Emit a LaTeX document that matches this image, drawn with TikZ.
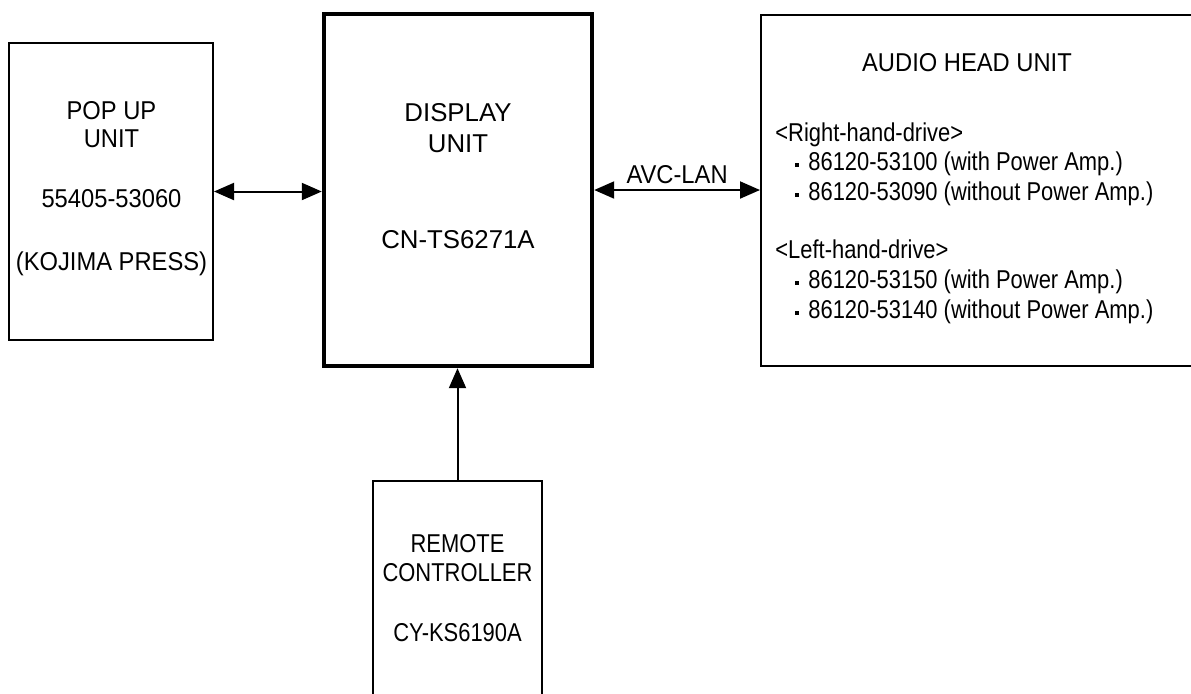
\documentclass[tikz,border=0pt]{standalone}
\usepackage{fontspec}
\setmainfont{Liberation Sans}
\newfontfamily\semifont[FakeStretch=0.92]{Liberation Sans}
\newfontfamily\narrowfont[FakeStretch=0.85]{Liberation Sans}
\usetikzlibrary{arrows.meta}
\newcommand{\bul}{\rule[2pt]{2pt}{2pt}\hspace{4.5pt}}
\begin{document}
\fontsize{12.9}{15}\selectfont
\begin{tikzpicture}[x=0.5pt,y=-0.5pt,>={Triangle[length=10pt,width=8.5pt]},
	unit/.style={draw,line width=1pt,inner sep=0pt},
	lbl/.style={inner sep=0pt,anchor=base},
	link/.style={<->,line width=1pt}]
	\useasboundingbox (0,0) rectangle (1191,693);
	% units
	\node[unit,minimum width=102pt,minimum height=148.5pt] (pop) at (111,191.5) {};
	\node[unit,line width=2.2pt,minimum width=134pt,minimum height=176pt] (disp) at (458,190) {};
	\node[unit,minimum width=239.5pt,minimum height=175.5pt] (ahu) at (1000.5,190.5) {};
	\node[unit,minimum width=84.5pt,minimum height=129.5pt] (rem) at (457.5,610.5) {};
	% texts
	\foreach \t/\y [count=\i] in {POP UP/119.5,UNIT/147,55405-53060/207.5,{(KOJIMA PRESS)}/270.5}
	  \node[lbl,font=\semifont] (pop\i) at (111.5,\y) {\t};
	\foreach \t/\y [count=\i] in {DISPLAY/121.5,UNIT/152.5,CN-TS6271A/248.5}
	  \node[lbl] (disp\i) at (458,\y) {\t};
	\foreach \t/\y [count=\i] in {REMOTE/552.5,CONTROLLER/581.5,CY-KS6190A/641.5}
	  \node[lbl,font=\narrowfont] (rem\i) at (457.5,\y) {\t};
	\node[lbl,font=\semifont] (ahu0) at (967,71.5) {AUDIO HEAD UNIT};
	\foreach \t/\x/\y [count=\i] in {{<Right-hand-drive>}/775/141.5,
	  {\bul 86120-53100 (with Power Amp.)}/795/170.5,
	  {\bul 86120-53090 (without Power Amp.)}/795/200.5,
	  {<Left-hand-drive>}/775/258.5,
	  {\bul 86120-53150 (with Power Amp.)}/795/288.5,
	  {\bul 86120-53140 (without Power Amp.)}/795/318.5}
	  \node[lbl,anchor=base west,font=\narrowfont] (ahu\i) at (\x,\y) {\t};
	% links
	\draw[link] (pop.east) -- (pop.east -| disp.west);
	\draw[link] (disp.east) -- (disp.east -| ahu.west)
	  node[midway,above,inner sep=2.75pt,font=\semifont] (avc) {AVC-LAN};
	\draw[->,line width=1pt] (rem.north) -- (rem.north |- disp.south);
\end{tikzpicture}
\end{document}
